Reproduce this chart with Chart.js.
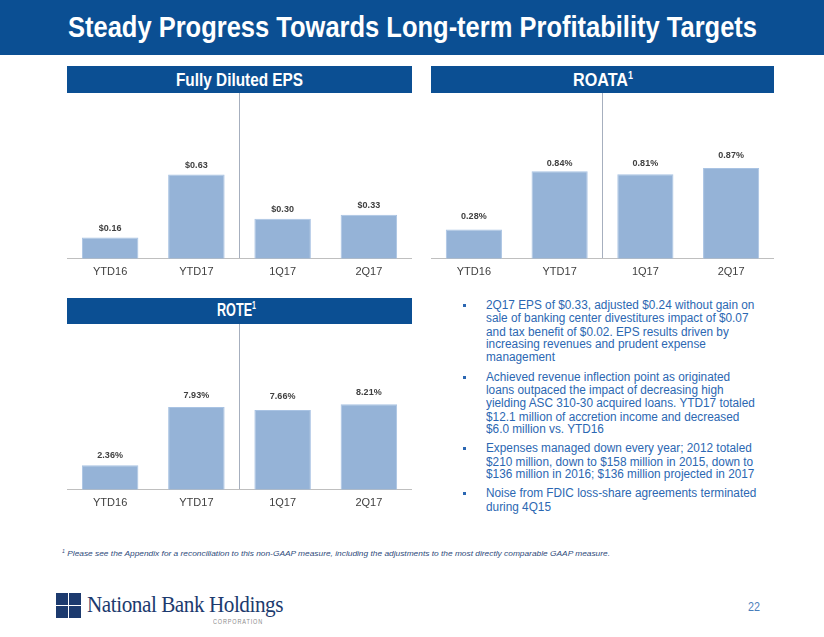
<!DOCTYPE html>
<html><head><meta charset="utf-8">
<script src="https://cdn.jsdelivr.net/npm/chart.js@4.4.1/dist/chart.umd.min.js"></script>
<style>
html,body{margin:0;padding:0;background:#fff;}
body{width:824px;height:637px;position:relative;overflow:hidden;font-family:"Liberation Sans",Arial,sans-serif;}
.abs{position:absolute;}
.t{position:absolute;white-space:nowrap;transform-origin:0 50%;}
.bl{font-size:12px;line-height:14px;height:14px;color:#2B67B2;left:486px;}
.bu{position:absolute;left:463px;width:3px;height:3px;background:#2B67B2;}
.box{position:absolute;}
</style></head><body>
<div class="abs" style="left:0;top:0;width:824px;height:55px;background:#0B4F93"></div>
<div class="t" data-w="689" style="left:68px;top:10px;height:34px;line-height:34px;font-size:30px;font-weight:bold;color:#fff">Steady Progress Towards Long-term Profitability Targets</div>

<div class="abs" style="left:67px;top:66px;width:345px;height:27px;background:#0B4F93"></div>
<div class="t" data-w="127" style="left:176px;top:70px;height:20px;line-height:20px;font-size:18px;font-weight:bold;color:#fff">Fully Diluted EPS</div>
<div class="abs" style="left:431px;top:66px;width:343px;height:27px;background:#0B4F93"></div>
<div class="t" data-w="60" style="left:573px;top:70px;height:20px;line-height:20px;font-size:18px;font-weight:bold;color:#fff">ROATA<sup style="font-size:10px;vertical-align:7px;line-height:0">1</sup></div>
<div class="abs" style="left:67px;top:298px;width:345px;height:26px;background:#0B4F93"></div>
<div class="t" data-w="39" style="left:217px;top:300px;height:20px;line-height:20px;font-size:18px;font-weight:bold;color:#fff">ROTE<sup style="font-size:10px;vertical-align:7px;line-height:0">1</sup></div>

<div class="box" style="left:67px;top:93px;width:345px;height:193px"><canvas id="eps"></canvas></div>
<div class="box" style="left:431px;top:93px;width:343px;height:193px"><canvas id="roata"></canvas></div>
<div class="box" style="left:67px;top:324px;width:345px;height:193px"><canvas id="rote"></canvas></div>

<div class="bu" style="top:303.5px"></div>
<div class="t bl" data-g="261" style="top:298px">2Q17 EPS of $0.33, adjusted $0.24 without gain on</div>
<div class="t bl" data-g="265" style="top:311.3px">sale of banking center divestitures impact of $0.07</div>
<div class="t bl" data-g="236" style="top:324.7px">and tax benefit of $0.02. EPS results driven by</div>
<div class="t bl" data-g="223" style="top:337.3px">increasing revenues and prudent expense</div>
<div class="t bl" data-g="76" style="top:350.3px">management</div>

<div class="bu" style="top:375.8px"></div>
<div class="t bl" data-g="252" style="top:370.3px">Achieved revenue inflection point as originated</div>
<div class="t bl" data-g="248" style="top:383px">loans outpaced the impact of decreasing high</div>
<div class="t bl" data-g="266" style="top:396.3px">yielding ASC 310-30 acquired loans. YTD17 totaled</div>
<div class="t bl" data-g="261" style="top:409.7px">$12.1 million of accretion income and decreased</div>
<div class="t bl" data-g="109" style="top:422.3px">$6.0 million vs. YTD16</div>

<div class="bu" style="top:446.8px"></div>
<div class="t bl" data-g="269" style="top:441.3px">Expenses managed down every year; 2012 totaled</div>
<div class="t bl" data-g="264" style="top:454.7px">$210 million, down to $158 million in 2015, down to</div>
<div class="t bl" data-g="262" style="top:467.3px">$136 million in 2016; $136 million projected in 2017</div>

<div class="bu" style="top:491.8px"></div>
<div class="t bl" data-g="266" style="top:486.3px">Noise from FDIC loss-share agreements terminated</div>
<div class="t bl" data-g="63" style="top:499.7px">during 4Q15</div>

<div class="t" data-w="548" style="left:62px;top:549px;height:10px;line-height:10px;font-size:8px;font-style:italic;color:#2E4A7A"><sup style="font-size:5px;vertical-align:3px;line-height:0">1</sup> Please see the Appendix for a reconciliation to this non-GAAP measure, including the adjustments to the most directly comparable GAAP measure.</div>

<div class="abs" style="left:56px;top:593px;width:12px;height:12px;background:#1C3A6E"></div>
<div class="abs" style="left:69px;top:593px;width:12px;height:12px;background:#1C3A6E"></div>
<div class="abs" style="left:56px;top:606px;width:12px;height:12px;background:#1C3A6E"></div>
<div class="abs" style="left:69px;top:606px;width:12px;height:12px;background:#1C3A6E"></div>
<div class="t" data-w="196" style="left:87px;top:593px;height:24px;line-height:24px;font-size:23px;font-family:'Liberation Serif','Times New Roman',serif;color:#1C3A6E;letter-spacing:-0.5px">National Bank Holdings</div>
<div class="t" data-w="50" style="left:213px;top:618px;height:8px;line-height:8px;font-size:6.5px;color:#8C8C8C;letter-spacing:1px">CORPORATION</div>
<div class="t" data-w="12" style="left:748px;top:600px;height:14px;line-height:14px;font-size:12px;color:#4A7EBB">22</div>

<script>
const categories = ['YTD16', 'YTD17', '1Q17', '2Q17'];
const epsValues = [0.16, 0.63, 0.30, 0.33];
const roataValues = [0.28, 0.84, 0.81, 0.87];
const roteValues = [2.36, 7.93, 7.66, 8.21];

document.querySelectorAll('[data-w]').forEach(el => {
  const w = el.getBoundingClientRect().width;
  el.style.transform = 'scaleX(' + (+el.dataset.w / w) + ')';
});
(function () {
  const els = [...document.querySelectorAll('[data-g]')];
  let tgt = 0, nat = 0;
  els.forEach(el => { tgt += +el.dataset.g; nat += el.getBoundingClientRect().width; });
  const s = tgt / nat;
  els.forEach(el => { el.style.transform = 'scaleX(' + s + ')'; });
})();

const valueLabels = {
  id: 'valueLabels',
  afterDatasetsDraw(chart, args, opts) {
    const ctx = chart.ctx;
    const meta = chart.getDatasetMeta(0);
    const data = chart.data.datasets[0].data;
    ctx.save();
    ctx.font = 'bold 9px "Liberation Sans", Arial, sans-serif';
    ctx.fillStyle = '#404040';
    ctx.textAlign = 'center';
    ctx.textBaseline = 'middle';
    meta.data.forEach((bar, i) => {
      ctx.fillText(opts.format(data[i]), bar.x, bar.y - opts.offsets[i]);
    });
    ctx.restore();
  }
};

function makeChart(id, values, yMax, format, offsets) {
  return new Chart(document.getElementById(id), {
    type: 'bar',
    data: {
      labels: categories,
      datasets: [{
        data: values,
        backgroundColor: '#95B3D7',
        borderColor: '#A9C3E3',
        borderWidth: 1,
        categoryPercentage: 1,
        barPercentage: 0.655
      }]
    },
    options: {
      responsive: true,
      maintainAspectRatio: false,
      animation: false,
      devicePixelRatio: 1,
      layout: { padding: 0 },
      plugins: {
        legend: { display: false },
        tooltip: { enabled: false },
        valueLabels: { format, offsets }
      },
      scales: {
        x: {
          offset: true,
          grid: {
            display: true,
            offset: true,
            drawTicks: false,
            tickLength: 0,
            lineWidth: 1,
            color: c => c.index === 2 ? '#A6AFBE' : 'rgba(0,0,0,0)'
          },
          border: { display: true, color: '#BFBFBF', width: 1 },
          ticks: {
            padding: 7,
            color: '#404040',
            font: { family: '"Liberation Sans", Arial, sans-serif', size: 11 }
          }
        },
        y: { display: false, min: 0, max: yMax }
      }
    },
    plugins: [valueLabels]
  });
}

makeChart('eps', epsValues, 1.24, v => '$' + v.toFixed(2), [9, 9, 9, 9]);
makeChart('roata', roataValues, 1.59, v => v.toFixed(2) + '%', [13, 8, 11, 13]);
makeChart('rote', roteValues, 15.9, v => v.toFixed(2) + '%', [10, 12, 13, 12]);
</script>
</body></html>
